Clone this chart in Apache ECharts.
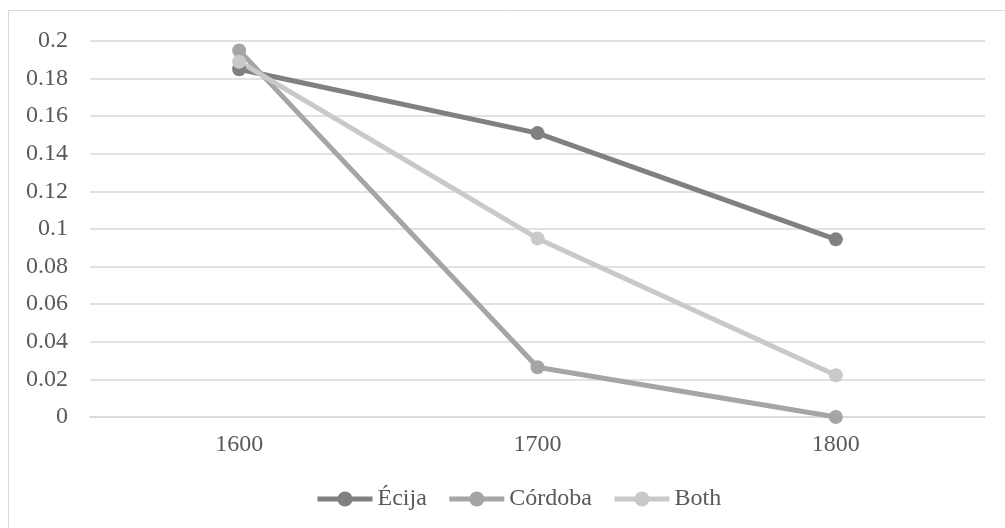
<!DOCTYPE html>
<html lang="en">
<head>
<meta charset="UTF-8">
<title>Écija / Córdoba</title>
<script src="https://cdn.jsdelivr.net/npm/echarts@6/dist/echarts.min.js"></script>
<style>
    html, body { margin: 0; padding: 0; background: #fff; }
    #chart { width: 1005px; height: 528px; }
</style>
</head>
<body>
<div id="chart"></div>
<script>
    const years = ['1600', '1700', '1800'];
    const ecija = [0.185, 0.151, 0.0945];
    const cordoba = [0.195, 0.0265, 0];
    const both = [0.189, 0.095, 0.0222];

    const font = '"Liberation Serif", "Times New Roman", serif';
    const chart = echarts.init(document.getElementById('chart'));

    function lineSeries(name, data, color) {
        return {
            name: name,
            type: 'line',
            data: data,
            symbol: 'circle',
            symbolSize: 14,
            lineStyle: { width: 5, color: color },
            itemStyle: { color: color },
            animation: false
        };
    }

    chart.setOption({
        textStyle: { fontFamily: font },
        graphic: [{
            type: 'rect',
            shape: { x: 8.5, y: 10.5, width: 1010, height: 530 },
            style: { fill: 'none', stroke: '#d9d9d9', lineWidth: 1 },
            silent: true
        }],
        grid: { left: 90, right: 20, top: 41, bottom: 111 },
        legend: {
            bottom: 12,
            left: 310,
            itemWidth: 55,
            itemHeight: 19,
            itemGap: 20,
            lineStyle: { width: 5 },
            textStyle: { fontFamily: font, fontSize: 24, color: '#595959' },
            data: ['Écija', 'Córdoba', 'Both']
        },
        xAxis: {
            type: 'category',
            data: years,
            boundaryGap: true,
            axisLine: { lineStyle: { color: '#d9d9d9', width: 1.5 } },
            axisTick: { show: false },
            axisLabel: { fontFamily: font, fontSize: 24, color: '#595959', margin: 16 }
        },
        yAxis: {
            type: 'value',
            min: 0,
            max: 0.2,
            interval: 0.02,
            axisLine: { show: false },
            axisTick: { show: false },
            splitLine: { lineStyle: { color: '#d9d9d9', width: 1.5 } },
            axisLabel: {
                fontFamily: font, fontSize: 24, color: '#595959', margin: 22,
                formatter: v => String(Math.round(v * 100) / 100)
            }
        },
        series: [
            lineSeries('Écija', ecija, '#808080'),
            lineSeries('Córdoba', cordoba, '#a5a5a5'),
            lineSeries('Both', both, '#c9c9c9')
        ]
    });
</script>
</body>
</html>
